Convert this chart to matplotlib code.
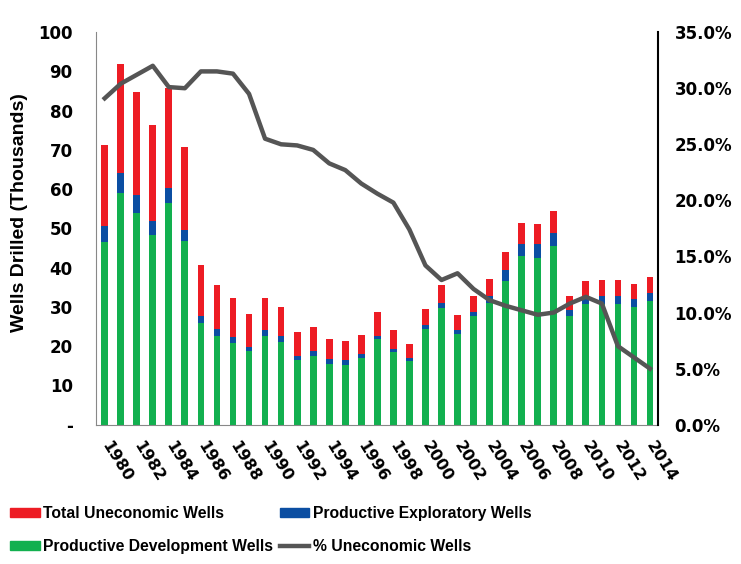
import matplotlib
matplotlib.use("Agg")
import matplotlib.pyplot as plt
import numpy as np
from matplotlib.patches import Patch
from matplotlib.lines import Line2D

plt.rcParams["font.family"] = ["Liberation Sans", "DejaVu Sans"]
plt.rcParams["font.weight"] = "bold"

years = list(range(1980, 2015))
# thousands of wells
development = [46.6, 58.9, 54.0, 48.3, 56.6, 46.8, 26.0, 22.7, 20.8, 18.7,
               22.6, 21.0, 16.5, 17.6, 15.5, 15.3, 17.0, 21.8, 18.6, 16.3,
               24.3, 29.7, 23.2, 27.6, 30.9, 36.7, 43.1, 42.4, 45.6, 27.6,
               30.8, 30.8, 30.8, 30.0, 31.6]
exploratory = [3.9, 5.1, 4.5, 3.7, 3.6, 2.8, 1.8, 1.7, 1.5, 1.2,
               1.6, 1.5, 1.1, 1.1, 1.3, 1.1, 1.0, 0.9, 0.8, 0.7,
               1.0, 1.3, 1.0, 1.2, 2.0, 2.7, 2.9, 3.6, 3.2, 1.7,
               1.9, 2.0, 2.1, 2.1, 1.9]
uneconomic = [20.7, 28.0, 26.3, 24.3, 25.5, 21.2, 12.9, 11.2, 10.1, 8.3,
              8.2, 7.4, 6.0, 6.2, 5.1, 4.9, 4.9, 6.0, 4.8, 3.6,
              4.1, 4.6, 3.8, 4.1, 4.2, 4.7, 5.5, 5.1, 5.6, 3.6,
              3.9, 4.1, 4.0, 3.7, 4.1]
pct_uneconomic = [29.1, 30.4, 31.2, 32.0, 30.1, 30.0, 31.5, 31.5, 31.3, 29.5,
                  25.5, 25.0, 24.9, 24.5, 23.3, 22.7, 21.5, 20.6, 19.8, 17.4,
                  14.2, 12.9, 13.5, 12.1, 11.1, 10.6, 10.2, 9.8, 10.0, 10.8,
                  11.4, 10.8, 7.0, 6.0, 5.0]

red = "#ED1C24"
blue = "#0B4EA2"
green = "#12B04F"
grey = "#555555"
tick_font = {"family": ["DejaVu Sans"], "weight": "bold", "size": 12}

x = np.arange(len(years))
dev = np.array(development)
exp_ = np.array(exploratory)
une = np.array(uneconomic)

fig = plt.figure(figsize=(7.41, 5.64), dpi=100)
ax = fig.add_axes([0.130, 0.247, 0.758, 0.696])

w = 0.42
ax.bar(x, dev, w, color=green, linewidth=0)
ax.bar(x, exp_, w, bottom=dev, color=blue, linewidth=0)
ax.bar(x, une, w, bottom=dev + exp_, color=red, linewidth=0)

ax.set_xlim(-0.52, len(years) - 0.5)
ax.set_ylim(0, 100)
ax.set_yticks(np.arange(0, 101, 10))
ax.set_yticklabels(["-"] + [str(v) for v in range(10, 101, 10)], fontdict=tick_font)
ax.tick_params(axis="y", length=0, pad=17)
ax.set_xticks(x[::2])
ax.set_xticklabels([str(y) for y in years[::2]], rotation=-58, ha="left",
                   va="center", rotation_mode="anchor",
                   fontdict={**tick_font, "size": 11.5})
ax.tick_params(axis="x", length=0, pad=13)
ax.set_ylabel("Wells Drilled (Thousands)", fontsize=14, fontweight="bold")
ax.yaxis.set_label_coords(-0.122, 0.54)
for s in ["top", "right"]:
    ax.spines[s].set_visible(False)
ax.spines["left"].set_color("#888888")
ax.spines["bottom"].set_color("#888888")

ax2 = ax.twinx()
ax2.plot(x, pct_uneconomic, color=grey, linewidth=3.2, solid_joinstyle="round")
ax2.set_ylim(0, 35)
ax2.set_yticks(np.arange(0, 36, 5))
ax2.set_yticklabels([f"{v:.1f}%" for v in np.arange(0, 36, 5)], fontdict=tick_font)
ax2.tick_params(axis="y", length=0, pad=12)
ax2.spines["top"].set_visible(False)
ax2.spines["left"].set_visible(False)
ax2.spines["bottom"].set_visible(False)
ax2.spines["right"].set_color("black")
ax2.spines["right"].set_linewidth(1.5)

handles = [
    Patch(color=red),
    Patch(color=green),
    Patch(color=blue),
    Line2D([], [], color=grey, linewidth=3.2),
]
labels = ["Total Uneconomic Wells", "Productive Development Wells",
          "Productive Exploratory Wells", "% Uneconomic Wells"]
fig.legend(handles, labels, ncol=2, loc="lower left", bbox_to_anchor=(-0.005, -0.007),
           frameon=False, prop={"family": "Liberation Sans", "weight": "bold", "size": 11.3},
           handlelength=1.9, handleheight=0.5, handletextpad=0.2,
           columnspacing=0.4, labelspacing=1.15)

fig.savefig("out.png", dpi=100)
